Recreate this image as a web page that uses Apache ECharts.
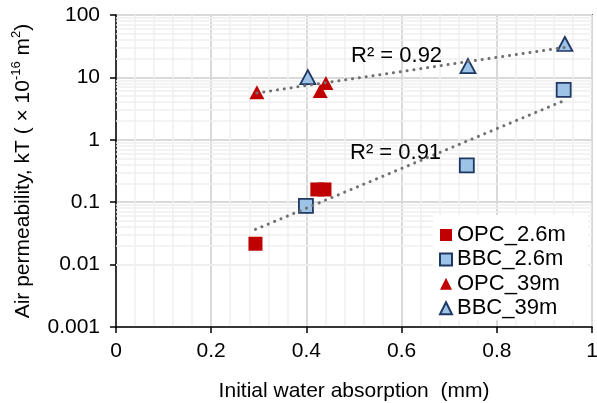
<!DOCTYPE html>
<html><head><meta charset="utf-8">
<script src="https://cdn.jsdelivr.net/npm/echarts@6/dist/echarts.min.js"></script>
<style>html,body{margin:0;padding:0;background:#fff}#c{width:597px;height:403px}</style>
</head><body><div id="c"></div>
<script>
// ---- data ----
const xOPC26 = [0.293, 0.423, 0.438];
const yOPC26 = [0.0216, 0.16, 0.16];
const xBBC26 = [0.399, 0.737, 0.9405];
const yBBC26 = [0.087, 0.39, 6.3];
const xOPC39 = [0.296, 0.429, 0.441];
const yOPC39 = [5.8, 6.05, 8.1];
const xBBC39 = [0.403, 0.7395, 0.943];
const yBBC39 = [10.1, 15.2, 34.3];
const seriesNames = ['OPC_2.6m', 'BBC_2.6m', 'OPC_39m', 'BBC_39m'];
const xTickLabels = ['0', '0.2', '0.4', '0.6', '0.8', '1'];
const yTickLabels = ['0.001', '0.01', '0.1', '1', '10', '100'];
const r2Labels = ['R\u00b2 = 0.92', 'R\u00b2 = 0.91'];

const FONT = "'Liberation Sans', Arial, sans-serif";
const zip = (xs, ys) => xs.map((x, i) => [x, ys[i]]);

// exponential least-squares trendline (straight on log y)
function expFit(xs, ys) {
  const n = xs.length;
  const ly = ys.map(Math.log);
  const mx = xs.reduce((a, b) => a + b, 0) / n;
  const my = ly.reduce((a, b) => a + b, 0) / n;
  let sxy = 0, sxx = 0;
  for (let i = 0; i < n; i++) { sxy += (xs[i] - mx) * (ly[i] - my); sxx += (xs[i] - mx) ** 2; }
  const b = sxy / sxx, a = my - b * mx;
  const x0 = Math.min(...xs), x1 = Math.max(...xs);
  return [[x0, Math.exp(a + b * x0)], [x1, Math.exp(a + b * x1)]];
}
const trend26 = expFit(xOPC26.concat(xBBC26), yOPC26.concat(yBBC26));
const trend39 = expFit(xOPC39.concat(xBBC39), yOPC39.concat(yBBC39));

// log minor grid values (2..9 per decade)
const minorVals = [];
for (let e = -3; e < 2; e++) for (let m = 2; m <= 9; m++) minorVals.push({ yAxis: m * Math.pow(10, e) });

const red = '#C00000', blueFill = '#9DC3E6', blueEdge = '#1F3864';
const trendStyle = { color: '#707070', width: 3, type: [0.1, 6.8], cap: 'round' };

const chart = echarts.init(document.getElementById('c'), null, { renderer: 'canvas' });
chart.setOption({
  animation: false,
  textStyle: { fontFamily: FONT },
  grid: { left: 116, right: 5, top: 15, bottom: 76, show: true, borderColor: '#000', borderWidth: 1.5, outerBoundsMode: 'none' },
  legend: {
    data: seriesNames,
    orient: 'vertical', left: 433, top: 215,
    backgroundColor: '#fff',
    padding: [9, 22, 1, 6],
    itemGap: 2.4, itemWidth: 12, itemHeight: 12,
    textStyle: { fontSize: 22, color: '#000', fontFamily: FONT }
  },
  xAxis: {
    type: 'value', min: 0, max: 1, interval: 0.2,
    name: 'Initial water absorption  (mm)', nameLocation: 'middle', nameGap: 54,
    nameTextStyle: { fontSize: 21, color: '#000', fontFamily: FONT },
    axisLine: { lineStyle: { color: '#000', width: 1.5 } },
    axisTick: { show: true, length: 6, lineStyle: { color: '#000', width: 1.5 } },
    axisLabel: { fontSize: 21, color: '#000', margin: 14, formatter: (v) => xTickLabels[Math.round(v / 0.2)] },
    splitLine: { show: true, lineStyle: { color: '#d9d9d9', width: 2 } },
    minorTick: { show: false, splitNumber: 5 },
    minorSplitLine: { show: true, lineStyle: { color: '#efefef', width: 1.5 } }
  },
  yAxis: {
    type: 'log', logBase: 10, min: 0.001, max: 100,
    name: '{n|Air permeability, kT ( \u00d7 10}{s|-16}{n| m}{s|2}{n|)}',
    nameLocation: 'middle', nameRotate: 90, nameGap: 82,
    nameTextStyle: {
      color: '#000', fontFamily: FONT,
      rich: {
        n: { fontSize: 21, lineHeight: 24, color: '#000', fontFamily: FONT, verticalAlign: 'bottom' },
        s: { fontSize: 13, lineHeight: 24, color: '#000', fontFamily: FONT, verticalAlign: 'top' }
      }
    },
    axisLine: { show: true, lineStyle: { color: '#000', width: 1.5 } },
    axisTick: { show: true, length: 6, lineStyle: { color: '#000', width: 1.5 } },
    axisLabel: { fontSize: 21, color: '#000', margin: 16, formatter: (v) => yTickLabels[Math.round(Math.log10(v)) + 3] },
    splitLine: { show: true, lineStyle: { color: '#d9d9d9', width: 2 } },
    minorTick: { show: false },
    minorSplitLine: { show: false }
  },
  graphic: [
    { type: 'text', left: 351, top: 45, z: 10, style: { text: r2Labels[0], font: '22px ' + FONT, fill: '#000' } },
    { type: 'text', left: 350, top: 142, z: 10, style: { text: r2Labels[1], font: '22px ' + FONT, fill: '#000' } }
  ],
  series: [
    {
      name: 'minorGrid', type: 'scatter', data: [], z: 1, silent: true,
      markLine: { z: 1, silent: true, symbol: ['none', 'none'], label: { show: false },
        lineStyle: { color: '#efefef', width: 1.5, type: 'solid' }, data: minorVals, animation: false }
    },
    { name: seriesNames[0], type: 'scatter', symbol: 'rect', symbolSize: 14, z: 3,
      itemStyle: { color: red, opacity: 1 }, data: zip(xOPC26, yOPC26) },
    { name: seriesNames[1], type: 'scatter', symbol: 'rect', symbolSize: 14, z: 3,
      itemStyle: { color: blueFill, borderColor: blueEdge, borderWidth: 1.8, opacity: 1 }, data: zip(xBBC26, yBBC26) },
    { name: seriesNames[2], type: 'scatter', symbol: 'triangle', symbolSize: [15, 14], z: 3,
      itemStyle: { color: red, opacity: 1 }, data: zip(xOPC39, yOPC39) },
    { name: seriesNames[3], type: 'scatter', symbol: 'triangle', symbolSize: [15, 14], z: 3,
      itemStyle: { color: blueFill, borderColor: blueEdge, borderWidth: 1.8, opacity: 1 }, data: zip(xBBC39, yBBC39) },
    { name: 'trend26', type: 'line', data: trend26, symbol: 'none', z: 4, silent: true, lineStyle: trendStyle },
    { name: 'trend39', type: 'line', data: trend39, symbol: 'none', z: 4, silent: true, lineStyle: trendStyle }
  ]
});
</script></body></html>
